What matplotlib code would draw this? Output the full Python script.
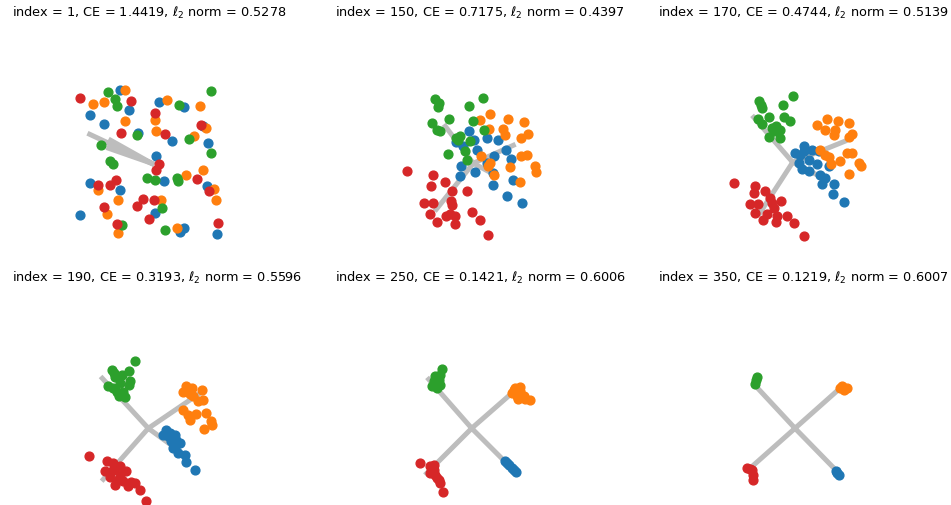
import numpy as np
import matplotlib
matplotlib.use("Agg")
import matplotlib.pyplot as plt

# snapshot info for each panel
indices = [1, 150, 170, 190, 250, 350]
ce_vals = [1.4419, 0.7175, 0.4744, 0.3193, 0.1421, 0.1219]
l2_norms = [0.5278, 0.4397, 0.5139, 0.5596, 0.6006, 0.6007]

colors = ["tab:blue", "tab:orange", "tab:green", "tab:red"]

# ---- features per class, (x, y) ----
# index = 1
f1_blue = [(-0.32, 0.73), (-0.23, 0.53), (0.07, 0.61), (0.32, 0.56), (-0.62, 0.48),
           (-0.48, 0.39), (0.51, 0.37), (-0.14, 0.30), (0.20, 0.22), (0.56, 0.20),
           (0.04, 0.07), (0.12, -0.18), (-0.62, -0.20), (-0.32, -0.27), (0.55, -0.23),
           (-0.72, -0.52), (0.03, -0.50), (0.32, -0.65), (0.28, -0.69), (0.65, -0.71)]
f1_orange = [(-0.59, 0.59), (-0.48, 0.61), (-0.27, 0.73), (0.15, 0.63), (0.48, 0.57),
             (-0.27, 0.42), (0.03, 0.43), (0.04, 0.32), (0.42, 0.27), (0.54, 0.35),
             (0.34, -0.12), (0.51, -0.07), (-0.54, -0.27), (0.62, -0.26), (0.64, -0.37),
             (-0.34, -0.37), (0.09, -0.37), (-0.45, -0.51), (-0.34, -0.70), (0.25, -0.65)]
f1_green = [(-0.44, 0.71), (-0.37, 0.64), (-0.35, 0.57), (0.27, 0.58), (0.59, 0.72),
            (-0.15, 0.28), (0.37, 0.24), (-0.51, 0.18), (0.59, 0.10), (-0.42, 0.02),
            (-0.39, -0.01), (-0.05, -0.15), (0.03, -0.17), (0.25, -0.15), (0.26, -0.18),
            (0.10, -0.45), (-0.30, -0.62), (0.13, -0.67)]
f1_red = [(-0.72, 0.65), (-0.21, 0.62), (0.03, 0.50), (-0.31, 0.30), (0.13, 0.29),
          (0.49, 0.38), (0.07, -0.01), (0.04, -0.07), (0.45, -0.16), (-0.54, -0.22),
          (-0.42, -0.22), (-0.36, -0.17), (0.57, -0.28), (-0.09, -0.36), (0.02, -0.37),
          (-0.15, -0.43), (-0.48, -0.44), (-0.03, -0.56), (-0.35, -0.61), (0.66, -0.60)]
w1 = [(-0.41, 0.19), (-0.41, 0.23), (-0.62, 0.29), (-0.43, 0.15)]

# index = 150
f2_blue = [(-0.04, 0.32), (0.01, 0.23), (0.14, 0.25), (0.25, 0.23), (-0.17, 0.21),
           (-0.10, 0.17), (0.04, 0.13), (0.33, 0.13), (0.21, 0.07), (0.38, 0.04),
           (-0.12, -0.03), (0.14, 0.00), (0.02, -0.09), (-0.13, -0.13), (0.20, -0.10),
           (0.40, -0.17), (0.20, -0.22), (0.34, -0.33), (0.49, -0.40)]
f2_orange = [(0.17, 0.49), (0.35, 0.44), (0.51, 0.41), (0.07, 0.43), (0.16, 0.34),
             (0.30, 0.34), (0.32, 0.28), (0.48, 0.25), (0.55, 0.29), (0.08, 0.07),
             (0.48, 0.07), (0.54, 0.08), (0.17, 0.00), (0.15, -0.03), (0.37, -0.04),
             (0.62, -0.03), (0.63, -0.09), (0.21, -0.12), (0.47, -0.19)]
f2_green = [(-0.38, 0.64), (-0.34, 0.60), (-0.35, 0.56), (0.10, 0.65), (-0.04, 0.57),
            (-0.24, 0.44), (-0.41, 0.40), (-0.36, 0.33), (-0.33, 0.32), (0.00, 0.42),
            (0.11, 0.33), (-0.17, 0.25), (-0.13, 0.27), (-0.15, 0.23), (-0.03, 0.22),
            (-0.08, 0.12), (-0.25, 0.09), (-0.06, 0.03)]
f2_red = [(-0.66, -0.08), (-0.40, -0.12), (-0.28, -0.19), (-0.42, -0.23), (-0.21, -0.28),
          (-0.06, -0.28), (-0.49, -0.40), (-0.40, -0.40), (-0.22, -0.38), (-0.21, -0.42),
          (-0.43, -0.51), (-0.27, -0.53), (-0.23, -0.51), (-0.18, -0.53), (-0.01, -0.49),
          (0.07, -0.57), (-0.36, -0.59), (-0.18, -0.61), (0.15, -0.72)]
w2 = [(0.15, -0.08), (0.40, 0.18), (-0.28, 0.37), (-0.37, -0.46)]

# index = 170
f3_blue = [(0.11, 0.16), (0.02, 0.09), (0.07, 0.07), (0.19, 0.12), (0.11, 0.11),
           (0.16, 0.02), (0.26, 0.11), (0.06, -0.01), (0.24, -0.02), (0.09, -0.07),
           (0.16, -0.09), (0.27, -0.13), (0.36, -0.04), (0.32, -0.16), (0.29, -0.22),
           (0.41, -0.22), (0.40, -0.32), (0.51, -0.40)]
f3_orange = [(0.34, 0.43), (0.45, 0.41), (0.56, 0.39), (0.24, 0.37), (0.32, 0.32),
             (0.42, 0.32), (0.41, 0.27), (0.56, 0.25), (0.59, 0.28), (0.27, 0.12),
             (0.32, 0.07), (0.36, 0.05), (0.54, 0.09), (0.59, 0.09), (0.47, 0.01),
             (0.38, -0.02), (0.66, -0.01), (0.68, -0.04), (0.56, -0.12)]
f3_green = [(-0.34, 0.61), (-0.32, 0.57), (-0.31, 0.54), (0.00, 0.66), (-0.10, 0.57),
            (-0.24, 0.45), (-0.09, 0.45), (-0.03, 0.41), (-0.35, 0.43), (-0.31, 0.38),
            (-0.21, 0.34), (-0.17, 0.36), (-0.13, 0.32), (-0.19, 0.31), (-0.13, 0.24),
            (-0.24, 0.25)]
f3_red = [(-0.59, -0.21), (-0.38, -0.24), (-0.39, -0.31), (-0.28, -0.29), (-0.23, -0.36),
          (-0.12, -0.39), (-0.43, -0.42), (-0.35, -0.42), (-0.21, -0.41), (-0.19, -0.46),
          (-0.38, -0.51), (-0.26, -0.52), (-0.16, -0.54), (-0.06, -0.54), (-0.30, -0.58),
          (-0.17, -0.60), (0.01, -0.61), (0.11, -0.74)]
w3 = [(0.33, -0.17), (0.52, 0.21), (-0.39, 0.45), (-0.33, -0.51)]

# index = 190
f4_blue = [(0.18, -0.02), (0.19, -0.04), (0.22, -0.05), (0.27, -0.07), (0.15, -0.07),
           (0.20, -0.08), (0.28, -0.12), (0.23, -0.13), (0.32, -0.15), (0.28, -0.17),
           (0.25, -0.20), (0.30, -0.25), (0.37, -0.27), (0.38, -0.34), (0.47, -0.42)]
f4_orange = [(0.38, 0.42), (0.44, 0.40), (0.54, 0.38), (0.35, 0.36), (0.42, 0.34),
             (0.55, 0.28), (0.50, 0.27), (0.35, 0.18), (0.40, 0.13), (0.42, 0.08),
             (0.48, 0.14), (0.58, 0.15), (0.63, 0.07), (0.64, 0.03), (0.56, -0.01),
             (0.45, 0.32)]
f4_green = [(-0.13, 0.67), (-0.19, 0.57), (-0.36, 0.58), (-0.34, 0.55), (-0.33, 0.51),
            (-0.26, 0.53), (-0.18, 0.47), (-0.19, 0.43), (-0.40, 0.42), (-0.35, 0.40),
            (-0.28, 0.45), (-0.31, 0.36), (-0.25, 0.36), (-0.23, 0.31), (-0.29, 0.32)]
f4_red = [(-0.59, -0.28), (-0.41, -0.33), (-0.35, -0.35), (-0.28, -0.38), (-0.43, -0.43),
          (-0.35, -0.42), (-0.22, -0.43), (-0.38, -0.49), (-0.28, -0.47), (-0.30, -0.52),
          (-0.25, -0.53), (-0.17, -0.54), (-0.33, -0.57), (-0.20, -0.58), (-0.13, -0.55),
          (-0.08, -0.62), (-0.02, -0.73)]
w4 = [(0.30, -0.22), (0.50, 0.34), (-0.46, 0.50), (-0.45, -0.51)]

# index = 250
f5_blue = [(0.33, -0.33), (0.35, -0.35), (0.37, -0.37), (0.40, -0.40), (0.42, -0.42),
           (0.44, -0.44)]
f5_orange = [(0.43, 0.40), (0.48, 0.41), (0.40, 0.35), (0.45, 0.32), (0.52, 0.32),
             (0.58, 0.28), (0.48, 0.37), (0.42, 0.38), (0.53, 0.29), (0.46, 0.29)]
f5_green = [(-0.30, 0.59), (-0.32, 0.53), (-0.37, 0.52), (-0.38, 0.47), (-0.33, 0.48),
            (-0.35, 0.40), (-0.40, 0.42), (-0.32, 0.43), (-0.37, 0.45)]
f5_red = [(-0.52, -0.35), (-0.42, -0.38), (-0.38, -0.37), (-0.38, -0.42), (-0.42, -0.45),
          (-0.37, -0.47), (-0.35, -0.50), (-0.33, -0.52), (-0.32, -0.55), (-0.29, -0.64)]
w5 = [(0.45, -0.45), (0.40, 0.35), (-0.43, 0.49), (-0.45, -0.45)]

# index = 350
f6_blue = [(0.41, -0.43), (0.44, -0.47), (0.42, -0.45)]
f6_orange = [(0.47, 0.42), (0.52, 0.40), (0.49, 0.38), (0.45, 0.40)]
f6_green = [(-0.38, 0.51), (-0.39, 0.48), (-0.40, 0.44)]
f6_red = [(-0.48, -0.40), (-0.43, -0.42), (-0.42, -0.47), (-0.42, -0.52), (-0.45, -0.41)]
w6 = [(0.42, -0.43), (0.45, 0.40), (-0.40, 0.43), (-0.45, -0.40)]

panels = [
    ([f1_blue, f1_orange, f1_green, f1_red], w1),
    ([f2_blue, f2_orange, f2_green, f2_red], w2),
    ([f3_blue, f3_orange, f3_green, f3_red], w3),
    ([f4_blue, f4_orange, f4_green, f4_red], w4),
    ([f5_blue, f5_orange, f5_green, f5_red], w5),
    ([f6_blue, f6_orange, f6_green, f6_red], w6),
]

W, H = 951, 505
fig = plt.figure(figsize=(W / 100, H / 100), dpi=100)

# where each panel's origin sits (pixels) and where the title starts
centers = [(151.7, 163.3), (473.3, 163.3), (792.7, 162.3),
           (148.3, 428.3), (471.7, 428.3), (795.0, 428.3)]
title_pos = [(12, 13), (335, 13), (658, 13),
             (12, 278), (335, 278), (658, 278)]
L = 0.85  # half-range of the axes, 100 px per unit

for k, (feats, w) in enumerate(panels):
    cx, cy = centers[k]
    ax = fig.add_axes([(cx - L * 100) / W, 1 - (cy + L * 100) / H,
                       2 * L * 100 / W, 2 * L * 100 / H])
    for c, pts in enumerate(feats):
        pts = np.array(pts)
        ax.scatter(pts[:, 0], pts[:, 1], color=colors[c], s=40, zorder=2)
    for wx, wy in w:
        ax.plot([0, wx], [0, wy], color="#bdbdbd", lw=3.6, zorder=1)
    ax.set_xlim(-L, L)
    ax.set_ylim(-L, L)
    ax.set_aspect("equal")
    ax.axis("off")

    tx, ty = title_pos[k]
    fig.text(tx / W, 1 - ty / H,
             r"index = %d, CE = %.4f, $\ell_2$ norm = %.4f" % (indices[k], ce_vals[k], l2_norms[k]),
             ha="left", va="center", fontsize=9.3)

fig.savefig("out.png", dpi=100)
